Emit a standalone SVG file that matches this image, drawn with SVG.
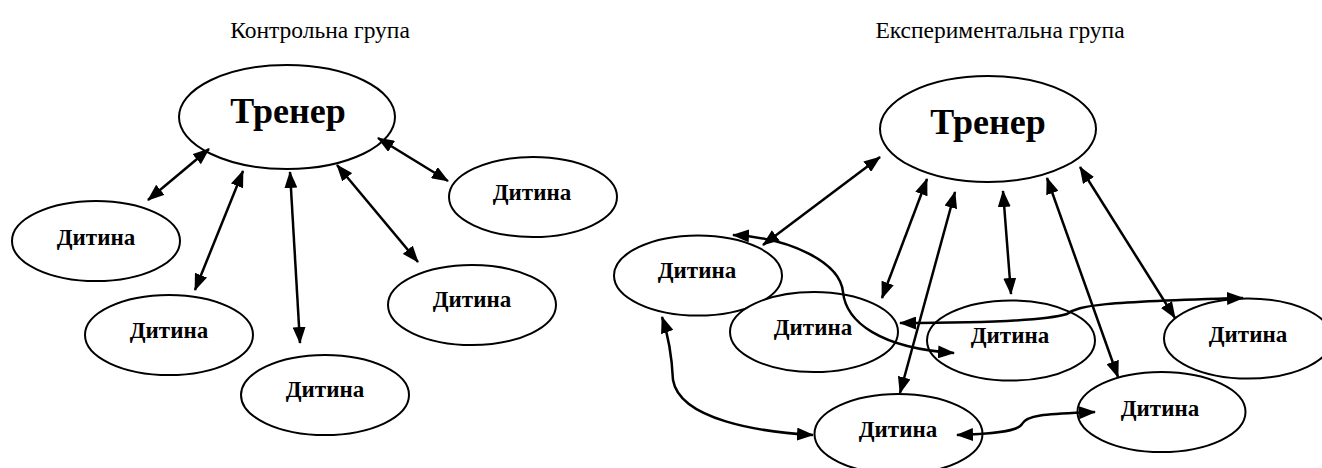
<svg xmlns="http://www.w3.org/2000/svg" width="1322" height="468" viewBox="0 0 1322 468">
<style>
.bg{fill:#fff}
.n ellipse{fill:#fff;stroke:#000;stroke-width:2}
.t{font-family:"Liberation Serif","Times New Roman",serif;font-weight:bold;font-size:23px;text-anchor:middle;fill:#000}
.tt{font-family:"Liberation Serif","Times New Roman",serif;font-weight:bold;font-size:36px;text-anchor:middle;fill:#000}
.title{font-family:"Liberation Serif","Times New Roman",serif;font-size:23.5px;text-anchor:middle;fill:#000}
.c line,.c path{fill:none;stroke:#000;stroke-width:2.5;marker-start:url(#ah);marker-end:url(#ah)}
</style>
<defs>
<marker id="ah" viewBox="0 0 17 13" refX="16" refY="6.5" markerWidth="17" markerHeight="13" markerUnits="userSpaceOnUse" orient="auto-start-reverse">
<path d="M0,0 L17,6.5 L0,13 z" fill="#000"/>
</marker>
</defs>
<rect class="bg" x="0" y="0" width="1322" height="468"/>
<text class="title" x="320" y="38">Контрольна група</text>
<text class="title" x="1000" y="38">Експериментальна група</text>

<g id="l-trener" class="n"><ellipse cx="287" cy="117" rx="108" ry="52"/><text class="tt" x="288" y="123">Тренер</text></g>
<g id="l-child1" class="n"><ellipse cx="96" cy="241" rx="84" ry="40"/><text class="t" x="96" y="245">Дитина</text></g>
<g id="l-child2" class="n"><ellipse cx="169" cy="335" rx="84" ry="40"/><text class="t" x="169" y="338">Дитина</text></g>
<g id="l-child3" class="n"><ellipse cx="325" cy="395" rx="84" ry="40"/><text class="t" x="325" y="397">Дитина</text></g>
<g id="l-child4" class="n"><ellipse cx="472" cy="305" rx="84" ry="40"/><text class="t" x="472" y="307">Дитина</text></g>
<g id="l-child5" class="n"><ellipse cx="533" cy="197" rx="84" ry="40"/><text class="t" x="532" y="200">Дитина</text></g>

<g id="r-trener" class="n"><ellipse cx="988" cy="129" rx="108" ry="53"/><text class="tt" x="988" y="134">Тренер</text></g>
<g id="r-childA" class="n"><ellipse cx="698" cy="275.5" rx="84" ry="40"/><text class="t" x="697" y="278">Дитина</text></g>
<g id="r-childB" class="n"><ellipse cx="814" cy="332" rx="84" ry="40"/><text class="t" x="813" y="335">Дитина</text></g>
<g id="r-childC" class="n"><ellipse cx="898.5" cy="434" rx="84" ry="40"/><text class="t" x="898" y="437">Дитина</text></g>
<g id="r-childD" class="n"><ellipse cx="1011" cy="340.5" rx="84" ry="40"/><text class="t" x="1010" y="343">Дитина</text></g>
<g id="r-childE" class="n"><ellipse cx="1248" cy="338.5" rx="84" ry="40"/><text class="t" x="1248" y="342">Дитина</text></g>
<g id="r-childF" class="n"><ellipse cx="1161.5" cy="412" rx="84" ry="40"/><text class="t" x="1160" y="416">Дитина</text></g>

<g id="connectors" class="c">
<line x1="209" y1="149" x2="148" y2="200"/>
<line x1="243" y1="171" x2="195" y2="290"/>
<line x1="290" y1="172" x2="300" y2="343"/>
<line x1="337" y1="165" x2="418" y2="262"/>
<line x1="378" y1="138" x2="448" y2="181"/>

<line x1="880" y1="157" x2="763" y2="245"/>
<line x1="927" y1="179" x2="882" y2="298"/>
<line x1="955" y1="192" x2="900" y2="393"/>
<line x1="1003" y1="191" x2="1011" y2="294"/>
<line x1="1047" y1="178" x2="1118" y2="377"/>
<line x1="1080" y1="167" x2="1175" y2="318"/>

<path d="M733,235 C790,238 840,262 843,292 C846,322 880,348 954,353"/>
<path d="M900,323 C960,323 1040,322 1067,314 C1080,305 1100,302 1243,298"/>
<path d="M662,317 C670,340 672,360 673,380 C680,420 760,432 813,435"/>
<path d="M957,435 C990,434 1018,432 1022,424 C1027,414 1050,414 1095,412"/>
</g>
</svg>
